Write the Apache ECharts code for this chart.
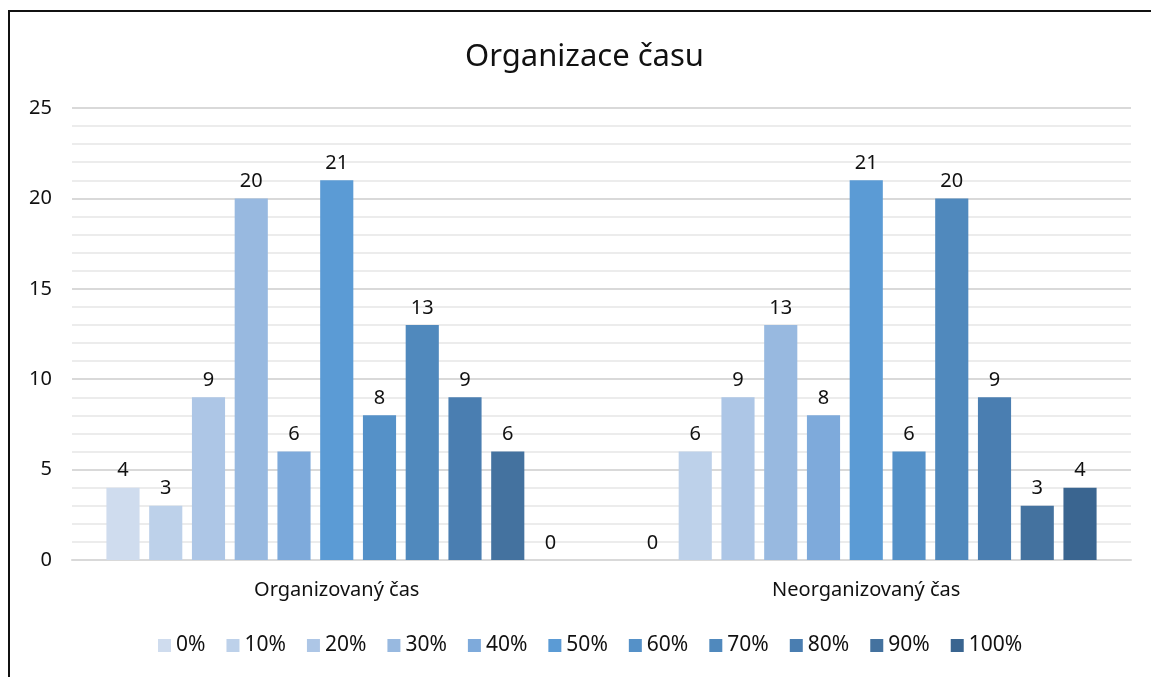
<!DOCTYPE html>
<html>
<head>
<meta charset="utf-8">
<title>Organizace času</title>
<script src="https://cdn.jsdelivr.net/npm/echarts@6/dist/echarts.min.js"></script>
<style>
  html, body { margin: 0; padding: 0; background: #fff; }
  #chart { width: 1151px; height: 677px; }
</style>
</head>
<body>
<div id="chart"></div>
<script>
// data
const categories = ['Organizovaný čas', 'Neorganizovaný čas']
const seriesNames = ['0%', '10%', '20%', '30%', '40%', '50%', '60%', '70%', '80%', '90%', '100%']
const organizedValues = [4, 3, 9, 20, 6, 21, 8, 13, 9, 6, 0]
const unorganizedValues = [0, 6, 9, 13, 8, 21, 6, 20, 9, 3, 4]
const colors = ['#cfdcee', '#bdd1ea', '#adc6e6', '#98b9e0', '#7eaadb', '#5b9bd5',
  '#5591c8', '#5089bd', '#4a7eb1', '#44729f', '#3a6590']

const fontFamily = '"Noto Sans", "Open Sans", sans-serif'

const chart = echarts.init(document.getElementById('chart'))

chart.setOption({
  animation: false,
  textStyle: { fontFamily: fontFamily },
  title: {
    text: 'Organizace času',
    left: 460,
    top: 37,
    textStyle: { fontSize: 31, fontWeight: 'normal', color: '#111', fontFamily: fontFamily }
  },
  graphic: [{
    type: 'polyline',
    shape: { points: [[9, 677], [9, 11], [1151, 11]] },
    style: { stroke: '#111', lineWidth: 2, fill: null }
  }],
  legend: {
    data: seriesNames,
    bottom: 16,
    left: 153,
    itemWidth: 13,
    itemHeight: 13,
    itemGap: 21,
    icon: 'rect',
    textStyle: { fontSize: 21, color: '#111', fontFamily: fontFamily }
  },
  grid: {
    left: 72,
    right: 20,
    top: 108,
    bottom: 117
  },
  xAxis: {
    type: 'category',
    data: categories,
    axisTick: { show: false },
    axisLine: { lineStyle: { color: '#d9d9d9', width: 2 } },
    axisLabel: { fontSize: 20, color: '#111', margin: 20 }
  },
  yAxis: {
    type: 'value',
    min: 0,
    max: 25,
    interval: 5,
    axisLine: { show: false },
    axisTick: { show: false },
    axisLabel: { fontSize: 20, color: '#111', margin: 20 },
    splitLine: { lineStyle: { color: '#d9d9d9', width: 2 } },
    minorTick: { show: false, splitNumber: 5 },
    minorSplitLine: { show: true, lineStyle: { color: '#ececec', width: 2 } }
  },
  series: seriesNames.map((name, i) => ({
    name: name,
    type: 'bar',
    barGap: '29%',
    barCategoryGap: '13%',
    data: [organizedValues[i], unorganizedValues[i]],
    itemStyle: { color: colors[i] },
    label: {
      show: true,
      position: 'top',
      distance: 7,
      fontSize: 20,
      color: '#111'
    }
  }))
})
</script>
</body>
</html>
